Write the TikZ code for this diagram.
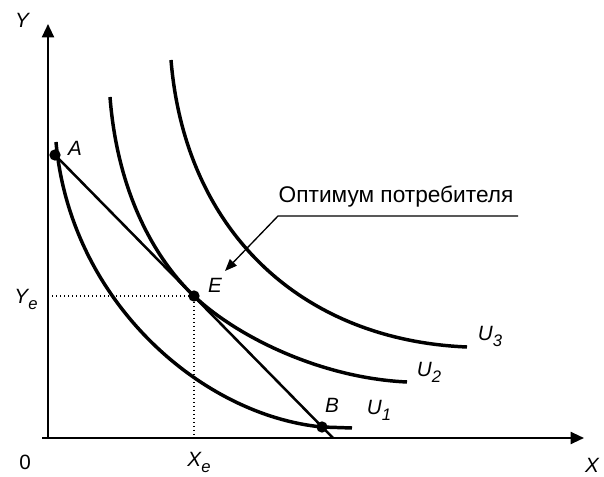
\documentclass[tikz,border=0pt]{standalone}
\usepackage{fontspec}
\setmainfont{Liberation Sans}
\usetikzlibrary{arrows.meta}

\newcommand{\lowidx}[1]{\raisebox{-0.55ex}{\fontsize{12.5}{12.5}\selectfont #1}}

\begin{document}
\begin{tikzpicture}[
    x=0.75pt, y=-0.75pt,
    >={Triangle[length=10pt, width=9pt]},
    axis/.style={line width=1.5pt},
    curve/.style={line width=2.6pt},
    budget/.style={line width=1.9pt},
    guide/.style={dotted, line width=1pt},
    dot/.style={circle, fill, inner sep=0pt, minimum size=8.5pt},
    lbl/.style={font=\fontsize{15.5}{18}\selectfont\itshape, inner sep=1pt}
]
\useasboundingbox (0,0) rectangle (604,477);

% Define points
\coordinate (O) at (48,438);
\coordinate (Ytop) at (48,24);
\coordinate (Xend) at (584,438);
\coordinate (A) at (55,155);
\coordinate (E) at (194,296);
\coordinate (B) at (322,427);
\coordinate (M) at (333,438);
\coordinate (Ey) at (48,296);
\coordinate (Ex) at (194,438);

% Axes
\draw[axis, ->] (42,438) -- (Xend);
\draw[axis, ->] (O) -- (Ytop);

% Dotted guides to E
\draw[guide] (Ey) -- (E) -- (Ex);

% Indifference curves
\coordinate (U1s) at (56,142);
\coordinate (U1e) at (352,428);
\draw[curve] (U1s) .. controls (70,300) and (200,415) .. (B) -- (U1e);
\coordinate (U2s) at (110,97);
\coordinate (U2e) at (407,382);
\draw[curve] (U2s) .. controls (118,200) and (160,264) .. (E)
    .. controls (236,336) and (320,378) .. (U2e);
\coordinate (U3s) at (171,60);
\coordinate (U3e) at (467,347);
\draw[curve] (U3s) .. controls (185,230) and (300,340) .. (U3e);

% Budget line
\draw[budget] (A) -- (M);

% Points
\node[dot] (dA) at (A) {};
\node[dot] (dE) at (E) {};
\node[dot] (dB) at (B) {};

% Labels
\node[lbl] (Ylab) at (22,20) {Y};
\node[lbl] (Xlab) at (592,465) {X};
\node[font=\fontsize{15.5}{18}\selectfont, inner sep=1pt] (zero) at (25,462) {0};
\node[lbl] (Alab) at (75,148) {A};
\node[lbl] (Elab) at (215,285) {E};
\node[lbl] (Blab) at (332,405) {B};
\node[lbl] (U1lab) at (379,410) {U\lowidx{1}};
\node[lbl] (U2lab) at (429,372) {U\lowidx{2}};
\node[lbl] (U3lab) at (490,336) {U\lowidx{3}};
\node[lbl] (Yelab) at (26,299) {Y\lowidx{e}};
\node[lbl] (Xelab) at (199,462) {X\lowidx{e}};

% Optimum note
\node[font=\fontsize{17}{20}\selectfont, inner sep=1pt] (opt) at (396,197) {Оптимум потребителя};
\coordinate (ulR) at (518,216);
\coordinate (ulL) at (278,216);
\coordinate (tip) at (225,271);
\draw[line width=1pt, -{Triangle[length=9pt, width=7pt]}] (ulR) -- (ulL) -- (tip);

\end{tikzpicture}
\end{document}
